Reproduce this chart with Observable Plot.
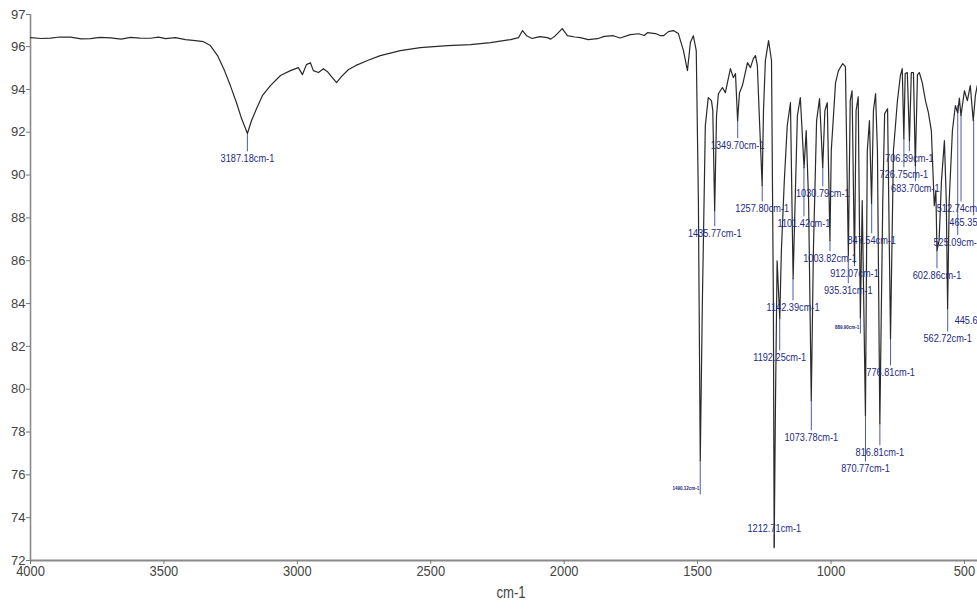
<!DOCTYPE html>
<html><head><meta charset="utf-8">
<script src="https://cdn.jsdelivr.net/npm/d3@7"></script>
<script src="https://cdn.jsdelivr.net/npm/@observablehq/plot@0.6"></script>
<style>html,body{margin:0;padding:0;background:#fff;overflow:hidden}</style>
</head><body><div id="chart"></div>
<script>
// Spectrum trace: wavenumber (cm-1) and transmittance (%T)
const wavenumber = [4000,3960,3925,3890,3850,3810,3775,3740,3700,3660,3625,3590,3550,3520,3494,3457,3419,3382,3352,3326,3299,3273,3251,3228,3209,3187,3172,3153,3131,3101,3063,3026,2996,2981,2966,2951,2940,2921,2902,2887,2872,2853,2835,2808,2782,2737,2689,2614,2539,2437,2351,2276,2201,2171,2156,2141,2120,2108,2090,2063,2050,2033,2007,1988,1960,1939,1910,1875,1850,1816,1790,1752,1720,1700,1688,1658,1639,1628,1609,1591,1572,1553,1538,1527,1516,1505,1497,1490,1482,1471,1460,1448,1443,1436,1429,1422,1407,1396,1377,1366,1358,1350,1343,1332,1313,1302,1291,1283,1276,1268,1258,1253,1246,1234,1223,1216,1213,1208,1202,1192,1186,1175,1164,1152,1142,1126,1115,1101,1093,1084,1074,1066,1054,1043,1031,1023,1014,1004,999,983,972,956,946,935,928,921,912,906,898,890,883,871,864,856,848,841,833,826,817,806,799,788,777,766,751,740,733,727,722,714,706,699,691,684,676,669,658,646,635,624,613,607,603,595,586,575,568,563,557,545,534,525,519,513,500,489,478,467,459,452];
const transmittance = [96.42,96.38,96.40,96.45,96.44,96.36,96.37,96.43,96.41,96.35,96.43,96.40,96.39,96.44,96.37,96.42,96.33,96.28,96.23,96.05,95.58,94.88,94.18,93.38,92.64,91.94,92.54,93.10,93.71,94.18,94.65,94.88,95.02,94.69,95.16,95.25,94.88,94.79,94.97,94.83,94.60,94.32,94.60,94.93,95.11,95.35,95.58,95.81,95.95,96.05,96.09,96.19,96.33,96.42,96.75,96.51,96.38,96.42,96.47,96.42,96.35,96.51,96.84,96.51,96.45,96.42,96.33,96.37,96.48,96.51,96.40,96.56,96.60,96.52,96.65,96.61,96.51,96.51,96.70,96.75,96.61,95.81,94.88,96.19,96.51,95.81,88.81,76.66,84.14,92.31,93.62,93.48,93.01,88.34,92.78,93.80,94.09,93.85,94.97,94.55,94.74,92.54,93.85,94.18,95.25,95.02,95.44,95.58,95.11,92.54,89.51,93.01,95.35,96.28,95.35,84.14,72.60,79.47,86.00,83.30,86.47,89.74,92.31,93.38,85.16,92.78,93.62,90.35,92.08,88.81,79.47,86.47,92.54,93.57,90.35,93.01,93.38,86.94,91.14,94.32,94.88,95.21,95.07,86.24,93.48,93.94,85.91,93.01,93.66,83.34,88.81,78.77,91.14,92.54,88.67,93.01,93.80,91.14,78.39,88.81,92.87,93.10,82.36,91.14,93.48,94.65,94.97,91.70,94.74,94.79,91.60,94.79,94.79,90.44,94.69,94.79,94.32,93.48,92.92,92.08,88.57,89.27,86.47,86.94,89.74,91.61,88.81,83.76,88.81,92.08,93.24,92.90,93.60,92.78,93.94,93.48,94.18,92.54,93.71,94.18];

// Peak annotations
const peakWn   = [3187.18,1435.77,1349.70,1257.80,1212.71,1192.25,1142.39,1101.42,1073.78,1030.79,1003.82,935.31,912.07,870.77,847.54,816.81,776.81,726.75,706.39,683.70,602.86,525.09,562.72,512.74,465.35,445.62];
const peakText = ["3187.18cm-1","1435.77cm-1","1349.70cm-1","1257.80cm-1","1212.71cm-1","1192.25cm-1","1142.39cm-1","1101.42cm-1","1073.78cm-1","1030.79cm-1","1003.82cm-1","935.31cm-1","912.07cm-1","870.77cm-1","847.54cm-1","816.81cm-1","776.81cm-1","726.75cm-1","706.39cm-1","683.70cm-1","602.86cm-1","525.09cm-1","562.72cm-1","512.74cm-1","465.35cm-1","445.62cm-1"];
const peakT    = [91.94,88.34,92.54,89.51,72.60,83.30,85.16,90.35,79.47,90.35,86.94,86.24,85.91,78.77,88.67,78.39,82.36,91.70,91.60,90.44,86.47,93.24,83.76,92.78,92.54,83.6];
const labelT   = [90.77,87.27,91.38,88.43,73.49,81.47,83.81,87.73,77.74,89.13,86.10,84.60,85.40,76.29,86.94,77.04,80.77,90.02,90.77,89.37,85.30,86.85,82.36,88.43,87.78,83.20];

// Tiny (unreadable) labels
const blobWn   = [1490.12, 889.90];
const blobText = ["1490.12cm-1", "889.90cm-1"];
const blobT    = [75.36, 82.88];
const blobPeakT= [76.66, 83.34];

const xTicks = [4000,3500,3000,2500,2000,1500,1000,500];
const yTicks = [72,74,76,78,80,82,84,86,88,90,92,94,96,97.5];

const spectrum = wavenumber.map((w,i)=>({w, t: transmittance[i]}));
const ann = peakWn.map((w,i)=>({w, text: peakText[i], pt: peakT[i], lt: labelT[i]}));
const leaders = ann.map(d => ({w: d.w, y1: d.lt < d.pt ? d.lt + 0.32 : d.lt - 0.32, y2: d.pt}));
const blobs = blobWn.map((w,i)=>({w, text: blobText[i], lt: blobT[i], pt: blobPeakT[i]}));

const font = "'Liberation Sans',Arial,sans-serif";

const chart = Plot.plot({
  width: 977, height: 614,
  marginLeft: 30, marginRight: 0, marginTop: 14, marginBottom: 54,
  style: {fontFamily: font, background: "white", overflow: "hidden"},
  x: {domain: [4000, 451], label: null},
  y: {domain: [72, 97.5], label: null},
  marks: [
    Plot.ruleX([4000], {stroke: "#8a8a8a", strokeWidth: 1.6}),
    Plot.ruleY([72], {stroke: "#8a8a8a", strokeWidth: 2.2}),
    Plot.axisY(yTicks, {tickSize: 4, tickPadding: 1, fontSize: 13, stroke: "#777", fill: "#444",
      tickFormat: d => d === 97.5 ? "97" : String(d), label: null}),
    Plot.axisX(xTicks, {tickSize: 4, tickPadding: 1, fontSize: 15, stroke: "#777", fill: "#444",
      tickFormat: d => String(d), label: null}),
    Plot.text(["cm-1"], {frameAnchor: "bottom", dx: 7, dy: 37, fontSize: 16, fill: "#444"}),
    Plot.ruleX(leaders, {x: "w", y1: "y1", y2: "y2", stroke: "#4a5aa8", strokeWidth: 1}),
    Plot.ruleX(blobs, {x: "w", y1: d => d.lt - 0.3, y2: "pt", stroke: "#4a5aa8", strokeWidth: 1}),
    Plot.line(spectrum, {x: "w", y: "t", stroke: "#2a2a2a", strokeWidth: 1.2}),
    Plot.text(ann, {x: "w", y: "lt", text: "text", fill: "#1e2a80", fontSize: 11.5}),
    Plot.text(blobs, {x: "w", y: "lt", text: "text", fill: "#1e2a80", fontSize: 4.5, fontWeight: "bold", textAnchor: "end", dx: -1})
  ]
});
document.getElementById("chart").appendChild(chart);

// condense text to mimic the narrow font of the original
function condense(sel, k) {
  sel.each(function() {
    const L = this.getComputedTextLength();
    if (L > 0) { this.setAttribute("textLength", (L * k).toFixed(1)); this.setAttribute("lengthAdjust", "spacingAndGlyphs"); }
  });
}
const svg = d3.select(chart);
const textGroups = svg.selectAll('g[aria-label="text"]').nodes();
condense(d3.select(textGroups[0]).selectAll("text"), 0.82);
condense(d3.select(textGroups[1]).selectAll("text"), 0.8);
condense(svg.selectAll('g[aria-label="x-axis tick label"] text'), 0.86);
</script></body></html>
